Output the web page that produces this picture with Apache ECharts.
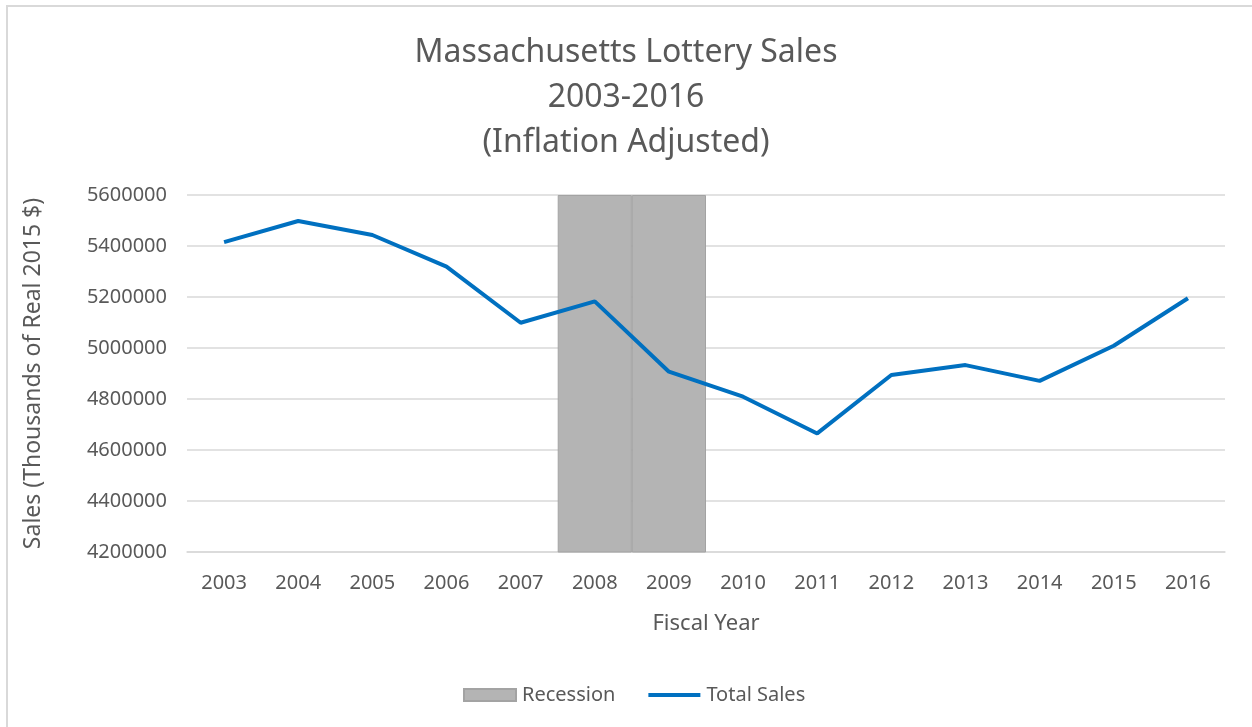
<!DOCTYPE html>
<html lang="en">
  <head>
    <meta charset="utf-8">
    <script src="https://cdn.jsdelivr.net/npm/echarts@6/dist/echarts.min.js"></script>
    <style>
      html, body { margin: 0; padding: 0; background: #fff; overflow: hidden; }
      #chart { width: 1252px; height: 727px; }
    </style>
  </head>
  <body>
    <div id="chart"></div>
    <script>
      // Fiscal years on the x axis
      const years = ['2003', '2004', '2005', '2006', '2007', '2008', '2009',
                     '2010', '2011', '2012', '2013', '2014', '2015', '2016'];

      // Total sales, thousands of real 2015 dollars
      const totalSales = [5415000, 5498000, 5443000, 5319000, 5099000, 5183000, 4907000,
                          4809000, 4665000, 4894000, 4933000, 4871000, 5009000, 5195000];

      // Recession shading: full-height columns for 2008 and 2009
      const recession = ['-', '-', '-', '-', '-', 5600000, 5600000,
                         '-', '-', '-', '-', '-', '-', '-'];

      const yMin = 4200000;
      const yMax = 5600000;
      const yStep = 200000;

      const grey = '#595959';
      const font = 'Noto Sans';

      var myChart = echarts.init(document.getElementById('chart'));

      var option = {
        backgroundColor: '#ffffff',
        animation: false,
        textStyle: { fontFamily: font },
        graphic: [{
          type: 'rect',
          shape: { x: 7, y: 6, width: 1300, height: 800 },
          style: { fill: 'none', stroke: '#d9d9d9', lineWidth: 2 },
          silent: true
        }],
        title: {
          text: 'Massachusetts Lottery Sales\n2003-2016\n(Inflation Adjusted)',
          left: 'center',
          top: 25,
          textStyle: {
            fontFamily: font,
            fontSize: 32,
            fontWeight: 'normal',
            color: grey,
            lineHeight: 45
          }
        },
        legend: {
          bottom: 17,
          left: 458,
          itemWidth: 52,
          itemHeight: 12,
          itemGap: 31,
          lineStyle: { width: 4 },
          textStyle: { fontFamily: font, fontSize: 20, color: grey, padding: [0, 0, 0, 1] },
          data: [
            { name: 'Recession', icon: 'rect' },
            { name: 'Total Sales', itemStyle: { opacity: 0 }, lineStyle: { color: '#0070c0', width: 4 } }
          ]
        },
        grid: {
          left: 187,
          right: 27,
          top: 195,
          bottom: 175,
          containLabel: false
        },
        xAxis: {
          type: 'category',
          data: years,
          boundaryGap: true,
          name: 'Fiscal Year',
          nameLocation: 'middle',
          nameGap: 61,
          nameTextStyle: { fontFamily: font, fontSize: 22, color: grey },
          axisLine: { show: true, lineStyle: { color: '#d9d9d9', width: 1.5 } },
          axisTick: { show: false },
          axisLabel: { fontFamily: font, fontSize: 20, color: grey, margin: 21 }
        },
        yAxis: {
          type: 'value',
          min: yMin,
          max: yMax,
          interval: yStep,
          name: 'Sales (Thousands of Real 2015 $)',
          nameLocation: 'middle',
          nameGap: 142,
          nameTextStyle: { fontFamily: font, fontSize: 23, color: grey },
          axisLine: { show: false },
          axisTick: { show: false },
          axisLabel: {
            fontFamily: font, fontSize: 20, color: grey, margin: 20,
            formatter: function (v) { return String(v); }
          },
          splitLine: { lineStyle: { color: '#d9d9d9', width: 1.5 } }
        },
        series: [
          {
            name: 'Recession',
            type: 'bar',
            data: recession,
            barWidth: '100%',
            barGap: '0%',
            barCategoryGap: '0%',
            clip: true,
            itemStyle: { color: '#b4b4b4', borderColor: '#a3a3a3', borderWidth: 1 },
            z: 1
          },
          {
            name: 'Total Sales',
            type: 'line',
            data: totalSales,
            symbol: 'none',
            showSymbol: false,
            lineStyle: { color: '#0070c0', width: 4 },
            itemStyle: { color: '#0070c0' },
            z: 3
          }
        ]
      };
      myChart.setOption(option);
    </script>
  </body>
</html>
